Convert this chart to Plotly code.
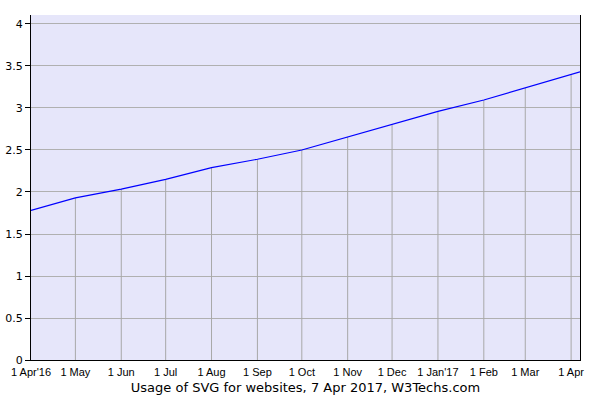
import plotly.graph_objects as go

dates = ["2016-04-01", "2016-05-01", "2016-06-01", "2016-07-01", "2016-08-01",
         "2016-09-01", "2016-10-01", "2016-11-01", "2016-12-01", "2017-01-01",
         "2017-02-01", "2017-03-01", "2017-04-01", "2017-04-07"]
values = [1.78, 1.93, 2.035, 2.15, 2.29, 2.39, 2.50, 2.655, 2.80, 2.96,
          3.095, 3.24, 3.40, 3.43]

tick_dates = dates[:13]
tick_labels = ["1 Apr'16", "1 May", "1 Jun", "1 Jul", "1 Aug", "1 Sep", "1 Oct",
               "1 Nov", "1 Dec", "1 Jan'17", "1 Feb", "1 Mar", "1 Apr"]
y_ticks = [0, 0.5, 1, 1.5, 2, 2.5, 3, 3.5, 4]
y_labels = ["0", "0.5", "1", "1.5", "2", "2.5", "3", "3.5", "4"]

# vertical drop lines from axis to curve at each month
vx, vy = [], []
for d, v in zip(tick_dates[1:], values[1:13]):
    vx += [d, d, None]
    vy += [0, v, None]

fig = go.Figure()
fig.add_trace(go.Scatter(x=vx, y=vy, mode="lines",
                         line=dict(color="#a8a8a8", width=1),
                         hoverinfo="skip", showlegend=False))
fig.add_trace(go.Scatter(x=dates, y=values, mode="lines",
                         line=dict(color="#0000ff", width=1.2),
                         showlegend=False))

fig.update_layout(
    width=600, height=400,
    margin=dict(l=31, r=20, t=15, b=40),
    paper_bgcolor="white",
    plot_bgcolor="#e6e6fa",
    font=dict(family="DejaVu Sans", size=11, color="black"),
    xaxis=dict(
        range=["2016-04-01", "2017-04-07"],
        tickvals=tick_dates, ticktext=tick_labels,
        showgrid=False, zeroline=False, automargin=False,
        showline=True, linecolor="black", linewidth=1,
        ticks="", ticklabelstandoff=2,
        tickfont=dict(family="Liberation Sans", size=11),
        title=dict(text="Usage of SVG for websites, 7 Apr 2017, W3Techs.com",
                   font=dict(family="DejaVu Sans", size=13), standoff=5),
    ),
    yaxis=dict(
        range=[0, 4.107],
        tickvals=y_ticks, ticktext=y_labels,
        showgrid=True, gridcolor="#b0b0b0", gridwidth=1,
        zeroline=False, automargin=False,
        showline=True, linecolor="black", linewidth=1, mirror=True,
        ticks="outside", ticklen=5, tickcolor="black",
        tickfont=dict(family="DejaVu Sans", size=11),
    ),
)

fig.write_html("out.html",
               config={"displayModeBar": False},
               post_script="document.body.style.margin='0';")
